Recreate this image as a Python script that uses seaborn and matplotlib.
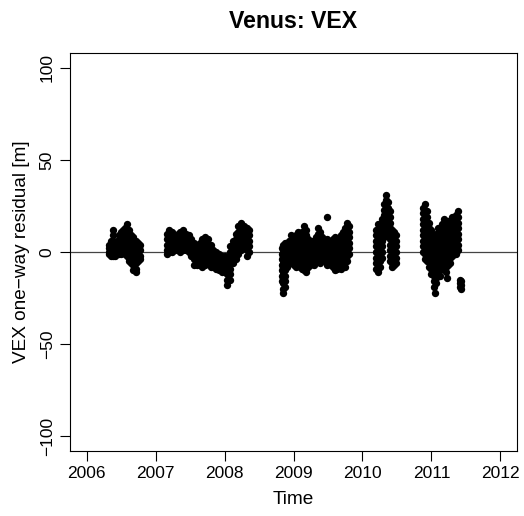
import numpy as np
import pandas as pd
import matplotlib
matplotlib.use("Agg")
import matplotlib.pyplot as plt
import seaborn as sns

# ---- data: observation epochs (decimal year) and residuals [m] per column ----
t_2006 = [2006.32, 2006.35, 2006.38, 2006.41, 2006.44, 2006.47, 2006.50, 2006.53,
          2006.56, 2006.59, 2006.62, 2006.65, 2006.68, 2006.71, 2006.74, 2006.77]
r_2006 = [[4, 2, 0, -1], [6, 3, 1, -2], [12, 9, 6, 3, 0, -2], [5, 2, -1, -2],
          [6, 3, 1, -1], [9, 6, 3, 0, -1], [11, 8, 5, 2, -1], [12, 9, 6, 3, 0],
          [13, 10, 7, 4, 1, -1], [15, 12, 9, 6, 3, 0, -2], [12, 9, 6, 3, 0, -3, -5],
          [9, 6, 3, 0, -3, -6], [8, 5, 2, -1, -4, -7, -10], [6, 3, 0, -3, -6, -9, -11],
          [5, 2, -1, -4, -5], [4, 1, -2, -4]]

t_2007 = [2007.16, 2007.20, 2007.24, 2007.28, 2007.32, 2007.36, 2007.40, 2007.44,
          2007.48, 2007.52, 2007.56, 2007.60, 2007.64, 2007.68, 2007.72, 2007.76,
          2007.80, 2007.84, 2007.88, 2007.92, 2007.96, 2008.00, 2008.04, 2008.08,
          2008.12, 2008.16, 2008.20, 2008.24, 2008.28, 2008.32, 2008.35]
r_2007 = [[10, 7, 4, 1, -1], [12, 9, 6, 3, 0], [11, 8, 5, 2, 0], [9, 6, 3, 1],
          [10, 7, 4, 1], [11, 8, 5, 2, 0], [12, 9, 6, 3, 1], [10, 7, 4, 1],
          [9, 6, 3, 0], [7, 4, 1, -2], [5, 2, -1, -4, -7], [4, 1, -2, -5, -7],
          [5, 2, -1, -4, -7], [7, 4, 1, -2, -5, -8], [8, 5, 2, -1, -4, -7],
          [7, 4, 1, -2, -5], [4, 1, -2, -5, -8], [1, -2, -5, -8], [0, -3, -6, -9],
          [-1, -4, -7, -10], [-2, -5, -8, -11], [-2, -5, -8, -11],
          [-3, -6, -9, -12, -15, -18], [3, 0, -3, -6, -9, -12, -15],
          [6, 3, 0, -3, -6], [10, 7, 4, 1, -2, -4], [14, 11, 8, 5, 2, -1],
          [16, 13, 10, 7, 4, 1], [14, 11, 8, 5, 2], [13, 10, 7, 4, 1, -2],
          [12, 9, 6, 3, 0]]

t_2009 = [2008.83, 2008.85, 2008.88, 2008.91, 2008.94, 2008.97, 2009.00, 2009.03,
          2009.06, 2009.09, 2009.12, 2009.15, 2009.18, 2009.21, 2009.24, 2009.27,
          2009.30, 2009.33, 2009.36, 2009.39, 2009.42, 2009.45, 2009.48, 2009.51,
          2009.54, 2009.57, 2009.60, 2009.63, 2009.66, 2009.69, 2009.72, 2009.75,
          2009.78, 2009.81]
r_2009 = [[2, -1, -4, -7, -10, -13, -16], [4, 1, -2, -5, -8, -11, -14, -17, -20, -22],
          [5, 2, -1, -4, -7, -10, -13, -16, -19], [4, 1, -2, -5, -8],
          [6, 3, 0, -3, -6], [9, 6, 3, 0, -3, -6], [8, 5, 2, -1, -4, -7],
          [9, 6, 3, 0, -3, -6, -8], [11, 8, 5, 2, -1, -4, -7],
          [10, 7, 4, 1, -2, -5, -8], [11, 8, 5, 2, -1, -4, -7, -9],
          [14, 11, 8, 5, 2, -1, -4, -7, -10], [12, 9, 6, 3, 0, -3, -6, -9, -11],
          [7, 4, 1, -2, -5, -8], [5, 2, -1, -4, -7], [6, 3, 0, -3, -6],
          [5, 2, -1, -4, -7], [8, 5, 2, -1, -4], [13, 10, 7, 4, 1, -2, -5],
          [11, 8, 5, 2, -1, -4, -6], [8, 5, 2, -1, -4], [6, 3, 0, -3, -5],
          [19, 7, 4, 1, -2, -5, -7], [6, 3, 0, -3, -6], [5, 2, -1, -4, -7],
          [7, 4, 1, -2, -5, -8], [8, 5, 2, -1, -4, -7, -10], [6, 3, 0, -3, -6, -9],
          [7, 4, 1, -2, -5, -8], [9, 6, 3, 0, -3, -6, -9], [11, 8, 5, 2, -1, -4, -7],
          [13, 10, 7, 4, 1, -2, -5, -8], [16, 13, 10, 7, 4, 1, -2, -5],
          [14, 11, 8, 5, 2, -1]]

t_2010 = [2010.19, 2010.22, 2010.25, 2010.28, 2010.31, 2010.34, 2010.37, 2010.40,
          2010.43, 2010.46, 2010.49]
r_2010 = [[12, 9, 6, 3, 0, -3, -6, -9], [15, 12, 9, 6, 3, 0, -3, -6, -9, -11],
          [13, 10, 7, 4, 1, -2, -5, -8], [18, 15, 12, 9, 6, 3, 0, -3],
          [26, 23, 20, 17, 14, 11, 8], [31, 28, 25, 22, 19, 16, 13, 10],
          [27, 24, 21, 18, 15, 12, 9], [22, 19, 16, 13, 10, 7, 4, 1, -2, -5],
          [12, 9, 6, 3, 0, -3, -6, -8], [11, 8, 5, 2, -1, -4, -7],
          [9, 6, 3, 0, -3, -6]]

t_2011 = [2010.88, 2010.91, 2010.94, 2010.97, 2011.00, 2011.03, 2011.05, 2011.06,
          2011.09, 2011.12, 2011.15, 2011.18, 2011.21, 2011.22, 2011.24, 2011.27,
          2011.30, 2011.33, 2011.36, 2011.39, 2011.42, 2011.43]
r_2011 = [[24, 21, 18, 15, 12, 9, 6, 3, 0], [26, 23, 20, 17, 14, 11, 8, 5, 2, -1, -4],
          [22, 19, 16, 13, 10, 7, 4, 1, -2, -5], [16, 13, 10, 7, 4, 1, -2, -5, -8],
          [12, 9, 6, 3, 0, -3, -6, -9, -12], [8, 5, 2, -1, -4, -7, -10, -13, -16, -19],
          [-22], [10, 7, 4, 1, -2, -5, -8, -11, -14, -17],
          [13, 10, 7, 4, 1, -2, -5, -8, -11], [11, 8, 5, 2, -1, -4, -7, -10, -13],
          [15, 12, 9, 6, 3, 0, -3, -6, -9], [18, 15, 12, 9, 6, 3, 0, -3, -6, -9],
          [16, 13, 10, 7, 4, 1, -2, -5, -8, -11], [-14],
          [17, 14, 11, 8, 5, 2, -1, -4, -7], [15, 12, 9, 6, 3, 0, -3, -6],
          [19, 16, 13, 10, 7, 4, 1, -2], [17, 14, 11, 8, 5, 2, -1],
          [20, 17, 14, 11, 8, 5, 2, -1], [22, 19, 16, 13, 10, 7, 4, 1],
          [-15, -17, -19], [-16, -18, -20]]

x_ticks = [2006, 2007, 2008, 2009, 2010, 2011, 2012]
y_ticks = [-100, -50, 0, 50, 100]

# ---- assemble table ----
rows = []
for ts, rs in [(t_2006, r_2006), (t_2007, r_2007), (t_2009, r_2009),
               (t_2010, r_2010), (t_2011, r_2011)]:
    for t, col in zip(ts, rs):
        for r in col:
            rows.append((t, r))
df = pd.DataFrame(rows, columns=["time", "residual"])

sns.set_style("white")
plt.rcParams['font.family'] = ['Liberation Sans', 'DejaVu Sans']
plt.rcParams['text.color'] = 'black'
plt.rcParams['axes.labelcolor'] = 'black'

fig = plt.figure(figsize=(5.24, 5.16), dpi=100)
ax = fig.add_axes([70 / 524, 1 - 451 / 516, 447 / 524, 398 / 516])

ax.axhline(0, color="#444444", lw=0.9, zorder=1)
sns.scatterplot(data=df, x="time", y="residual", color="black", s=28,
                edgecolor="black", linewidth=0, ax=ax, zorder=2)

ax.set_xlim(2005.76, 2012.24)
ax.set_ylim(-108, 108)
ax.set_xticks(x_ticks)
ax.set_xticklabels([str(v) for v in x_ticks])
ax.set_yticks(y_ticks)
ax.set_yticklabels([str(v).replace("-", "\u2212") for v in y_ticks],
                   rotation=90, va="center")
ax.tick_params(axis="both", direction="out", length=7, width=0.8,
               labelsize=12.5, color="black", labelcolor="black", pad=4,
               bottom=True, left=True)
for sp in ax.spines.values():
    sp.set_color("black")
    sp.set_linewidth(0.8)

ax.set_xlabel("Time", fontsize=13.7, labelpad=7, color="black")
ax.set_ylabel("VEX one\u2212way residual [m]", fontsize=13.7, labelpad=7,
              color="black")
ax.set_title("Venus: VEX", fontsize=16.7, fontweight="bold", pad=18,
             color="black")

fig.savefig("out.png", dpi=100)
